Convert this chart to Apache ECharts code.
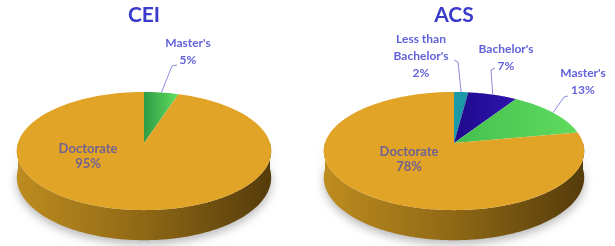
<!DOCTYPE html>
<html>
<head>
<meta charset="utf-8">
<script src="https://cdn.jsdelivr.net/npm/echarts@6/dist/echarts.min.js"></script>
<style>
  html, body { margin: 0; padding: 0; background: #fff; }
  #chart { width: 615px; height: 246px; }
</style>
</head>
<body>
<div id="chart"></div>
<script>
// data
const ceiNames = ["Master's", 'Doctorate'];
const ceiValues = [5, 95];
const acsNames = ["Less than\nBachelor's", "Bachelor's", "Master's", 'Doctorate'];
const acsValues = [2, 7, 13, 78];
const chartTitles = ['CEI', 'ACS'];

// styles
const ceiColors = [['#2f9c45', '#60de60'], '#e2a427'];
const acsColors = ['#1c98a6', ['#1f0a8c', '#2e14ad'], ['#45c04f', '#5edb5e'], '#e2a427'];
const sideStops = [
    { offset: 0, color: '#bd8c1f' },
    { offset: 0.5, color: '#8f6815' },
    { offset: 1, color: '#553c0b' }
];

// pie geometry (cx/cy = apex), p = perspective
const ceiGeo = { cx: 144, cy: 143, rx: 126, ry: 58, depth: 26, p: 0.136 };
const acsGeo = { cx: 454, cy: 143, rx: 129, ry: 58, depth: 26, p: 0.136 };

// label placement relative to apex: elbow, end of leader, text centre
const ceiLabels = [
    { elbow: [28, -77], end: [33, -78], text: [44, -91] },
    { text: [-56, 13], inside: true }
];
const acsLabels = [
    { elbow: [4, -81], end: [0, -83], text: [-33, -87] },
    { elbow: [37, -73], end: [41, -75], text: [52, -85] },
    { elbow: [110, -46], end: [114, -47], text: [129, -61] },
    { text: [-45, 16], inside: true }
];

function project(g, deg, drop) {
    const t = deg * Math.PI / 180;
    const u = Math.sin(t), v = Math.cos(t);
    const s = 1 / (1 + g.p * v);
    return [g.cx + g.rx * u * s, g.cy - g.ry * v * s + (drop ? g.depth * s : 0)];
}

function arc(g, a, b, drop) {
    const pts = [];
    for (let d = a; d < b; d += 1) pts.push(project(g, d, drop));
    pts.push(project(g, b, drop));
    return pts;
}

function fillOf(c, pts) {
    if (typeof c === 'string') return c;
    const xs = pts.map(p => p[0]);
    return new echarts.graphic.LinearGradient(Math.min(...xs), 0, Math.max(...xs), 0, [
        { offset: 0, color: c[0] },
        { offset: 1, color: c[1] }
    ], true);
}

function pieSeries(names, values, colors, geo, labels) {
    const total = values.reduce((s, v) => s + v, 0);
    let acc = 0;
    const rows = values.map((v, i) => {
        const a = acc / total * 360;
        acc += v;
        return [a, acc / total * 360, i, v];
    });

    const side = {
        type: 'custom',
        coordinateSystem: 'none',
        z: 1,
        silent: true,
        data: rows,
        renderItem: (params, api) => {
            const a = Math.max(api.value(0), 90);
            const b = Math.min(api.value(1), 270);
            if (a >= b) return null;
            const pts = arc(geo, a, b, false).concat(arc(geo, a, b, true).reverse());
            return {
                type: 'polygon',
                shape: { points: pts },
                style: {
                    fill: new echarts.graphic.LinearGradient(geo.cx - geo.rx, 0, geo.cx + geo.rx, 0, sideStops, true),
                    shadowBlur: 10,
                    shadowOffsetY: 4,
                    shadowColor: 'rgba(0,0,0,0.28)'
                }
            };
        }
    };

    const top = {
        type: 'custom',
        coordinateSystem: 'none',
        z: 2,
        silent: true,
        data: rows,
        renderItem: (params, api) => {
            const a = api.value(0), b = api.value(1), i = api.value(2), v = api.value(3);
            const pts = [[geo.cx, geo.cy]].concat(arc(geo, a, b, false));
            const children = [{
                type: 'polygon',
                shape: { points: pts },
                style: { fill: fillOf(colors[i], pts) }
            }];
            const lab = labels[i];
            const txt = names[i] + '\n' + v + '%';
            if (lab.inside) {
                children.push({
                    type: 'text',
                    x: geo.cx + lab.text[0],
                    y: geo.cy + lab.text[1],
                    z2: 10,
                    style: {
                        text: txt, fill: '#726290', fontSize: 13, fontWeight: 'bold', fontFamily: 'Lato',
                        lineHeight: 15, align: 'center', verticalAlign: 'middle'
                    }
                });
            } else {
                const mid = project(geo, (a + b) / 2, false);
                children.push({
                    type: 'polyline',
                    z2: 10,
                    shape: { points: [mid, [geo.cx + lab.elbow[0], geo.cy + lab.elbow[1]], [geo.cx + lab.end[0], geo.cy + lab.end[1]]] },
                    style: { stroke: '#8c8ce0', lineWidth: 1, fill: null }
                });
                children.push({
                    type: 'text',
                    x: geo.cx + lab.text[0],
                    y: geo.cy + lab.text[1],
                    z2: 10,
                    style: {
                        text: txt, fill: '#6262da', fontSize: 12, fontWeight: 'bold', fontFamily: 'Lato',
                        lineHeight: 17, align: 'center', verticalAlign: 'middle'
                    }
                });
            }
            return { type: 'group', children: children };
        }
    };
    return [side, top];
}

const chart = echarts.init(document.getElementById('chart'), null, { renderer: 'canvas' });
chart.setOption({
    animation: false,
    backgroundColor: '#fff',
    graphic: [ceiGeo, acsGeo].map((g, k) => ({
        type: 'text',
        x: g.cx,
        y: 15,
        style: {
            text: chartTitles[k], fill: '#3a3acb', fontSize: 21, fontWeight: 'bold',
            fontFamily: 'Lato', align: 'center', verticalAlign: 'middle'
        }
    })),
    series: pieSeries(ceiNames, ceiValues, ceiColors, ceiGeo, ceiLabels)
        .concat(pieSeries(acsNames, acsValues, acsColors, acsGeo, acsLabels))
});
</script>
</body>
</html>
